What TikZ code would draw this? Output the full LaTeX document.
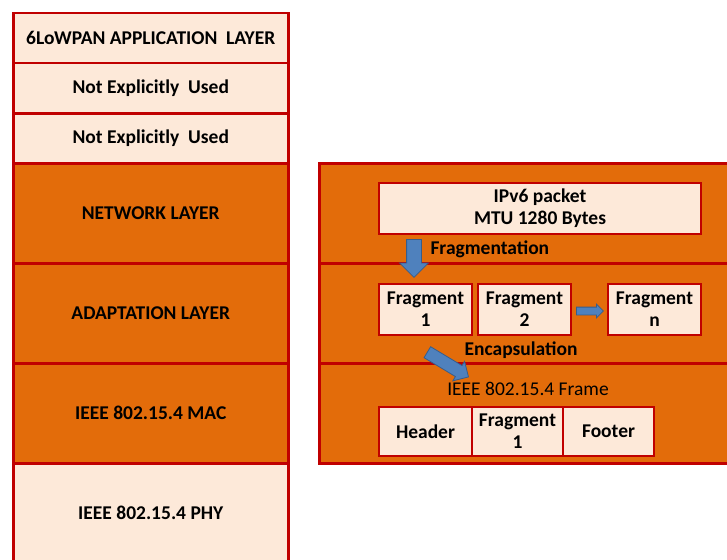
\documentclass[tikz,border=0pt]{standalone}
\usepackage{fontspec}
\setmainfont{Carlito}
\usetikzlibrary{shapes.arrows}
\definecolor{layerorange}{HTML}{E36C0A}
\definecolor{layerlight}{HTML}{FDE9D9}
\definecolor{layerred}{HTML}{C00000}
\definecolor{arrowblue}{HTML}{4F81BD}
\definecolor{arrowedge}{HTML}{385D8A}
\tikzset{
  txt/.style={font=\fontsize{19.5}{22}\selectfont\bfseries, text=black, align=center},
  layer/.style={txt, draw=layerred, line width=2.5pt, anchor=north west, inner sep=0pt,
                minimum width=275pt},
  lightlayer/.style={layer, fill=layerlight},
  orangelayer/.style={layer, fill=layerorange},
  panelrow/.style={draw=layerred, line width=2.5pt, fill=layerorange, anchor=north west,
                   inner sep=0pt, minimum width=430pt, minimum height=100pt},
  packetbox/.style={txt, draw=layerred, line width=2pt, fill=layerlight, anchor=north west,
                    inner sep=0pt},
  blockarrow/.style={single arrow, draw=arrowedge, fill=arrowblue, line width=0.8pt,
                     inner xsep=0pt, anchor=tail},
}
\begin{document}
\begin{tikzpicture}[x=1pt,y=-1pt]
\useasboundingbox (0,0) rectangle (727,559);
\clip (0,0) rectangle (727,559);

% protocol stack on the left
\node[lightlayer, minimum height=50pt]  (app) at (12,12)  {6LoWPAN APPLICATION~~LAYER};
\node[lightlayer, minimum height=50pt]  (nu1) at (12,62)  {Not Explicitly~~Used};
\node[lightlayer, minimum height=50pt]  (nu2) at (12,112) {Not Explicitly~~Used};
\node[orangelayer, minimum height=100pt] (net) at (12,162) {NETWORK LAYER};
\node[orangelayer, minimum height=100pt] (adp) at (12,262) {ADAPTATION LAYER};
\node[orangelayer, minimum height=100pt] (mac) at (12,362) {IEEE 802.15.4 MAC};
\node[lightlayer, minimum height=100pt] (phy) at (12,462) {IEEE 802.15.4 PHY};

% detail panel on the right
\node[panelrow] (rnet) at (318,162) {};
\node[panelrow] (radp) at (318,262) {};
\node[panelrow] (rmac) at (318,362) {};

\node[packetbox, minimum width=322pt, minimum height=51pt] (ipv6) at (378,182)
  {IPv6 packet\\MTU 1280 Bytes};

\node[packetbox, minimum width=93pt, minimum height=51pt] (f1) at (378,283) {Fragment\\1};
\node[packetbox, minimum width=93pt, minimum height=51pt] (f2) at (477,283) {Fragment\\2};
\node[packetbox, minimum width=93pt, minimum height=51pt] (fn) at (607,283) {Fragment\\n};

\node[txt, anchor=west] (fragtxt) at (427,249) {Fragmentation};
\node[txt] (enctxt) at (521,350) {Encapsulation};
\node[txt, font=\fontsize{19.5}{22}\selectfont] (frametxt) at (528,389) {IEEE 802.15.4 Frame};

\node[packetbox, minimum width=93pt, minimum height=49pt] (hdr) at (378,406) {Header};
\node[packetbox, minimum width=91pt, minimum height=49pt] (ff1) at (471,406) {Fragment\\1};
\node[packetbox, minimum width=91pt, minimum height=49pt] (ftr) at (562,406) {Footer};

% block arrows
\node[blockarrow, minimum height=38pt, inner ysep=7pt, single arrow head extend=7pt,
      rotate=-90] (adown) at (414,239) {};
\node[blockarrow, minimum height=27pt, inner ysep=3.5pt, single arrow head extend=3pt]
      (aright) at (576,311) {};
\node[blockarrow, minimum height=48pt, inner ysep=6pt, single arrow head extend=5pt,
      rotate=-31] (adiag) at (427,352) {};
\end{tikzpicture}
\end{document}
